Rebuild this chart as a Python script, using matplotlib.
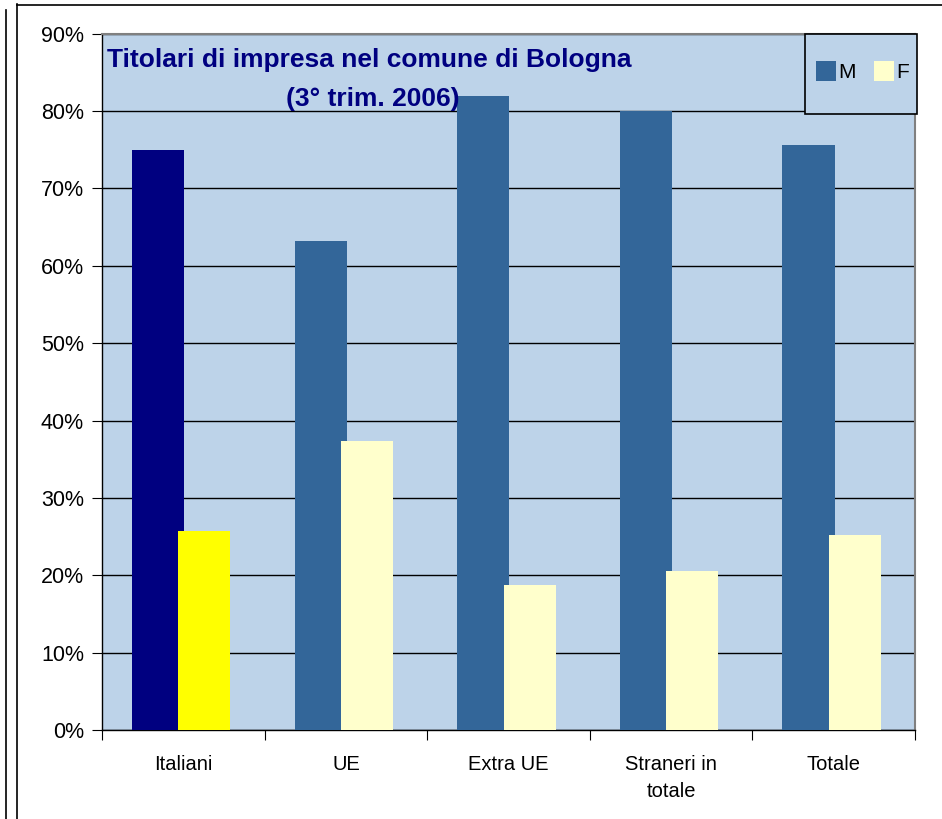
import matplotlib
matplotlib.use("Agg")
import matplotlib.pyplot as plt
from matplotlib.lines import Line2D
from matplotlib.patches import Rectangle
import numpy as np

plt.rcParams['font.family'] = ['Liberation Sans', 'DejaVu Sans']

categories = ["Italiani", "UE", "Extra UE", "Straneri in\ntotale", "Totale"]
maschi = [75.0, 63.2, 82.0, 80.0, 75.6]
femmine = [25.7, 37.3, 18.7, 20.5, 25.2]
yticks = [0, 10, 20, 30, 40, 50, 60, 70, 80, 90]

col_m = "#336699"
col_f = "#FFFFCC"
col_m_first = "#000080"
col_f_first = "#FFFF00"
bg = "#BDD3E9"

W, H = 942, 819
fig = plt.figure(figsize=(W / 100, H / 100), dpi=100)
ax = fig.add_axes([102 / W, (H - 730) / H, 813 / W, (730 - 33.7) / H])
ax.set_facecolor(bg)

x = np.arange(len(categories)) + 0.5
bw = 0.32
m_colors = [col_m_first] + [col_m] * (len(categories) - 1)
f_colors = [col_f_first] + [col_f] * (len(categories) - 1)
ax.bar(x - 0.155, maschi, width=bw, color=m_colors, zorder=3)
ax.bar(x + 0.13, femmine, width=bw, color=f_colors, zorder=4)

ax.set_xlim(0, 5)
ax.set_ylim(0, 90)
ax.set_yticks(yticks)
ax.set_yticklabels([f"{v}%" for v in yticks], fontsize=15.5)
ax.yaxis.grid(True, color="black", linewidth=1.0, zorder=1)
ax.set_axisbelow(True)

ax.set_xticks(np.arange(0, 6))
ax.set_xticklabels([])
ax.set_xticks(x, minor=True)
ax.set_xticklabels(categories, minor=True, fontsize=14.5, linespacing=1.55)
ax.tick_params(axis="x", which="minor", length=0, pad=18)
ax.tick_params(axis="x", which="major", length=7, direction="out", color="black")
ax.tick_params(axis="y", length=7, direction="out", color="black", pad=6)

for s in ("left", "bottom"):
    ax.spines[s].set_color("black")
    ax.spines[s].set_linewidth(1.0)
for s in ("top", "right"):
    ax.spines[s].set_color("#808080")
    ax.spines[s].set_linewidth(1.5)

ax.text(0.006, 0.962, "Titolari di impresa nel comune di Bologna",
        transform=ax.transAxes, fontsize=19, fontweight="bold",
        color="#000080", ha="left", va="center", zorder=6)
ax.text(0.333, 0.906, "(3° trim. 2006)",
        transform=ax.transAxes, fontsize=19, fontweight="bold",
        color="#000080", ha="center", va="center", zorder=6)

# legend box
lx0, ly0, lx1, ly1 = 805, 34, 917, 114
fig.add_artist(Rectangle((lx0 / W, 1 - ly1 / H), (lx1 - lx0) / W, (ly1 - ly0) / H,
                         transform=fig.transFigure, facecolor=bg,
                         edgecolor="black", linewidth=1.2, zorder=10))
for sx, col, lab in [(816, col_m, "M"), (874, col_f, "F")]:
    fig.add_artist(Rectangle((sx / W, 1 - 81 / H), 20 / W, 20 / H,
                             transform=fig.transFigure, facecolor=col,
                             edgecolor="none", zorder=11))
    fig.text((sx + 22) / W, 1 - 72 / H, lab, fontsize=15, color="black",
             ha="left", va="center", zorder=12)

# outer frame lines
fig.add_artist(Line2D([5.5 / W, 5.5 / W], [0, 1 - 10 / H], transform=fig.transFigure,
                      color="black", linewidth=1.2))
fig.add_artist(Line2D([16.5 / W, 16.5 / W], [0, 1 - 4 / H], transform=fig.transFigure,
                      color="black", linewidth=1.2))
fig.add_artist(Line2D([16.5 / W, 1], [1 - 4.5 / H, 1 - 4.5 / H], transform=fig.transFigure,
                      color="black", linewidth=1.2))

fig.savefig("out.png", dpi=100, facecolor="white")
